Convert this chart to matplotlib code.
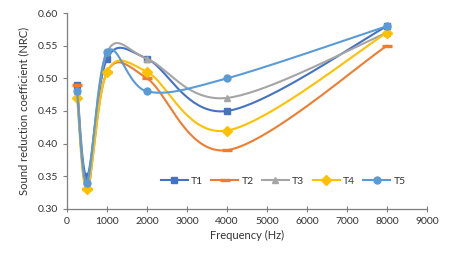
import numpy as np
import matplotlib
matplotlib.use('Agg')
import matplotlib.pyplot as plt

plt.rcParams['font.family'] = ['Lato', 'DejaVu Sans']

freq = [250, 500, 1000, 2000, 4000, 8000]
t1 = [0.49, 0.35, 0.53, 0.53, 0.45, 0.58]
t2 = [0.49, 0.33, 0.51, 0.50, 0.39, 0.55]
t3 = [0.48, 0.34, 0.54, 0.53, 0.47, 0.57]
t4 = [0.47, 0.33, 0.51, 0.51, 0.42, 0.57]
t5 = [0.48, 0.34, 0.54, 0.48, 0.50, 0.58]
names = ['T1', 'T2', 'T3', 'T4', 'T5']
colors = ['#4472C4', '#ED7D31', '#A5A5A5', '#FFC000', '#5B9BD5']
markers = ['s', '_', '^', 'D', 'o']


def smooth(x, y, n=40):
    # excel-like smoothed line: catmull-rom bezier through the points
    p = np.column_stack([x, y]).astype(float)
    xs, ys = [], []
    for i in range(len(p) - 1):
        p0 = p[max(i - 1, 0)]
        p1 = p[i]
        p2 = p[i + 1]
        p3 = p[min(i + 2, len(p) - 1)]
        c1 = p1 + (p2 - p0) / 6
        c2 = p2 - (p3 - p1) / 6
        t = np.linspace(0, 1, n, endpoint=False)[:, None]
        seg = ((1 - t) ** 3) * p1 + 3 * ((1 - t) ** 2) * t * c1 + 3 * (1 - t) * t ** 2 * c2 + t ** 3 * p2
        xs.extend(seg[:, 0])
        ys.extend(seg[:, 1])
    xs.append(p[-1, 0])
    ys.append(p[-1, 1])
    marks = list(range(0, len(xs), n))
    return xs, ys, marks


fig = plt.figure(figsize=(4.5, 2.56), dpi=100)
ax = fig.add_axes([0.149, 0.184, 0.8, 0.765])

for name, vals, c, m in zip(names, [t1, t2, t3, t4, t5], colors, markers):
    xs, ys, marks = smooth(freq, vals)
    if m == '_':
        ax.plot(xs, ys, color=c, lw=1.5, marker=m, markevery=marks, ms=7.5, mew=2.4, label=name)
    else:
        ax.plot(xs, ys, color=c, lw=1.5, marker=m, markevery=marks, ms=5, label=name)

ax.set_xlim(0, 9000)
ax.set_ylim(0.30, 0.60)
ax.set_xticks(range(0, 9001, 1000))
ax.set_yticks(np.arange(0.30, 0.601, 0.05))
ax.yaxis.set_major_formatter(matplotlib.ticker.FormatStrFormatter('%.2f'))
for s in ['top', 'right']:
    ax.spines[s].set_visible(False)
for s in ['left', 'bottom']:
    ax.spines[s].set_color('#7f7f7f')
    ax.spines[s].set_linewidth(0.9)
ax.tick_params(axis='x', direction='inout', length=5, color='#7f7f7f', labelsize=7.5, labelcolor='#333333', pad=3)
ax.tick_params(axis='y', direction='out', length=3, color='#7f7f7f', labelsize=7.5, labelcolor='#333333')
ax.set_xlabel('Frequency (Hz)', fontsize=8, color='#333333', labelpad=3)
ax.set_ylabel('Sound reduction coefficient (NRC)', fontsize=8, color='#333333', labelpad=6)

ax.legend(ncol=5, loc='center', bbox_to_anchor=(0.6, 0.14), frameon=False, fontsize=7.5,
          handlelength=2.6, columnspacing=0.8, handletextpad=0.3, labelcolor='#333333')

fig.savefig('out.png', dpi=100)
